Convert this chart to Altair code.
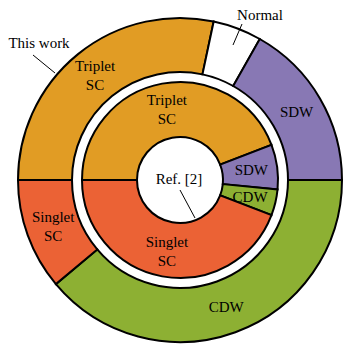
import altair as alt
import pandas as pd
import math

# Outer ring ("This work"), angular extent in degrees
outer_cats = ["Triplet SC", "Normal", "SDW", "CDW", "Singlet SC"]
outer_deg = [102, 17.5, 60.5, 140, 40]
outer_labels = ["Triplet\nSC", "", "SDW", "CDW", "Singlet\nSC"]

# Inner ring ("Ref. [2]")
inner_cats = ["Triplet SC", "SDW", "CDW", "Singlet SC"]
inner_deg = [159, 26.5, 15.5, 159]
inner_labels = ["Triplet\nSC", "SDW", "CDW", "Singlet\nSC"]

color_domain = ["Triplet SC", "Singlet SC", "SDW", "CDW", "Normal"]
color_range = ["#E19C24", "#EB6235", "#8878B4", "#8DB033", "#FFFFFF"]

outer = pd.DataFrame({"cat": outer_cats, "deg": outer_deg,
                      "label": outer_labels, "idx": list(range(len(outer_cats)))})
inner = pd.DataFrame({"cat": inner_cats, "deg": inner_deg,
                      "label": inner_labels, "idx": list(range(len(inner_cats)))})

start = 1.5 * math.pi
theta_scale = alt.Scale(domain=[0, 360], range=[start, start + 2 * math.pi])
color = alt.Color("cat:N", scale=alt.Scale(domain=color_domain, range=color_range), legend=None)
FONT = "Liberation Serif"


def ring(df, r_out, r_in, r_lab):
    base = alt.Chart(df).encode(
        theta=alt.Theta("deg:Q", stack=True, scale=theta_scale),
        order=alt.Order("idx:Q"),
    )
    arcs = base.mark_arc(radius=r_out, radius2=r_in, stroke="black", strokeWidth=2).encode(color=color)
    text1 = base.mark_text(radius=r_lab, font=FONT, fontSize=15, color="black",
                           baseline="middle").encode(
        text=alt.condition("indexof(datum.label, '\\n') < 0", "label:N", alt.value("")))
    text2 = base.mark_text(radius=r_lab, font=FONT, fontSize=15, color="black",
                           lineBreak="\n", lineHeight=19, baseline="middle", dy=-9).encode(
        text=alt.condition("indexof(datum.label, '\\n') >= 0", "label:N", alt.value("")))
    return arcs, text1, text2


oa, ot1, ot2 = ring(outer, 162, 108, 135)
ia, it1, it2 = ring(inner, 98, 43, 72)

one = pd.DataFrame({"a": [0]})
ref_text = alt.Chart(one).mark_text(font=FONT, fontSize=15, color="black", baseline="middle").encode(
    x=alt.value(171), y=alt.value(171), text=alt.value("Ref. [2]"))
ref_line = alt.Chart(one).mark_rule(color="black", strokeWidth=1).encode(
    x=alt.value(172), y=alt.value(182), x2=alt.value(187), y2=alt.value(210))

work_text = alt.Chart(one).mark_text(font=FONT, fontSize=15, color="black", baseline="middle").encode(
    x=alt.value(31), y=alt.value(35), text=alt.value("This work"))
work_line = alt.Chart(one).mark_rule(color="black", strokeWidth=1).encode(
    x=alt.value(25), y=alt.value(47), x2=alt.value(47), y2=alt.value(65))

norm_text = alt.Chart(one).mark_text(font=FONT, fontSize=15, color="black", baseline="alphabetic").encode(
    x=alt.value(252), y=alt.value(12), text=alt.value("Normal"))
norm_line = alt.Chart(one).mark_rule(color="black", strokeWidth=1).encode(
    x=alt.value(234), y=alt.value(16), x2=alt.value(225), y2=alt.value(37))

chart = alt.layer(oa, ia, ot1, ot2, it1, it2, ref_line, ref_text, work_line, work_text,
                  norm_line, norm_text).properties(
    width=344, height=344, padding=0, autosize=alt.AutoSizeParams(type="none"),
    background="white",
).configure_view(stroke=None)

chart.save("out.html", embed_options={"renderer": "svg", "actions": False})
